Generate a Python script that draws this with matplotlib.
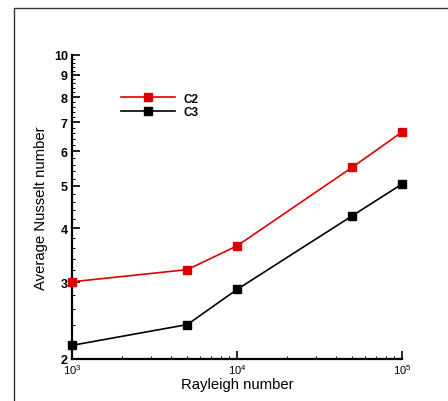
import matplotlib
matplotlib.use('Agg')
import matplotlib.pyplot as plt
from matplotlib.ticker import FixedLocator, NullFormatter, LogLocator
from matplotlib.patches import Rectangle
import numpy as np

plt.rcParams['font.family'] = ['Liberation Sans', 'DejaVu Sans']
plt.rcParams['mathtext.fontset'] = 'custom'
plt.rcParams['mathtext.rm'] = 'Liberation Sans'
plt.rcParams['mathtext.it'] = 'Liberation Sans'

ra = [1e3, 5e3, 1e4, 5e4, 1e5]
nu_c2 = [3.01, 3.21, 3.64, 5.52, 6.65]
nu_c3 = [2.15, 2.40, 2.89, 4.27, 5.05]
yticks = [2, 3, 4, 5, 6, 7, 8, 9, 10]
xticks = [1e3, 1e4, 1e5]
xticklabels = ['10$^{3}$', '10$^{4}$', '10$^{5}$']

red = '#dd0000'

fig = plt.figure(figsize=(4.48, 4.02), dpi=100)
ax = fig.add_axes([72/448, 1-360/402, 330/448, 304/402])

# outer frame (only left/top visible in the original)
fig.patches.append(Rectangle((14/448, -0.1), 1.2, 1.1 - 9/402, transform=fig.transFigure,
                             fill=False, edgecolor='#333333', linewidth=1.0))

ax.plot(ra, nu_c2, '-s', color=red, lw=1.2, ms=5.5, mec=red, mfc=red, label='C2', clip_on=False, zorder=3)
ax.plot(ra, nu_c3, '-s', color='black', lw=1.2, ms=5.5, label='C3', clip_on=False, zorder=3)

ax.set_xscale('log')
ax.set_yscale('log')
ax.set_xlim(1e3, 1e5)
ax.set_ylim(2, 10)

ax.xaxis.set_major_locator(FixedLocator(xticks))
ax.set_xticklabels(xticklabels)
ax.xaxis.set_minor_locator(LogLocator(base=10, subs=np.arange(2, 10)))
ax.xaxis.set_minor_formatter(NullFormatter())

ax.yaxis.set_major_locator(FixedLocator(yticks))
ax.set_yticklabels([str(t) for t in yticks])
ax.yaxis.set_minor_locator(FixedLocator(np.arange(2.2, 10, 0.2)))
ax.yaxis.set_minor_formatter(NullFormatter())

for s in ['top', 'right']:
    ax.spines[s].set_visible(False)
for s in ['left', 'bottom']:
    ax.spines[s].set_linewidth(1.6)

ax.tick_params(which='major', direction='in', length=5.5, width=1.2, pad=3)
ax.tick_params(which='minor', direction='in', length=2.5, width=0.7)
ax.tick_params(axis='y', which='major', labelsize=9)
ax.tick_params(axis='x', which='major', labelsize=8, pad=2)
for lab in ax.get_yticklabels():
    lab.set_fontweight('bold')

ax.set_xlabel('Rayleigh number', fontsize=10.7, labelpad=1)
ax.set_ylabel('Average Nusselt number', fontsize=10.7, labelpad=4)

leg = ax.legend(loc='upper left', bbox_to_anchor=(110/448, 1-83/402), bbox_transform=fig.transFigure,
                frameon=False, handlelength=4.6, handletextpad=0.7, labelspacing=0.13,
                prop={'size': 8.5, 'weight': 'bold'})

fig.savefig('out.png', dpi=100)
